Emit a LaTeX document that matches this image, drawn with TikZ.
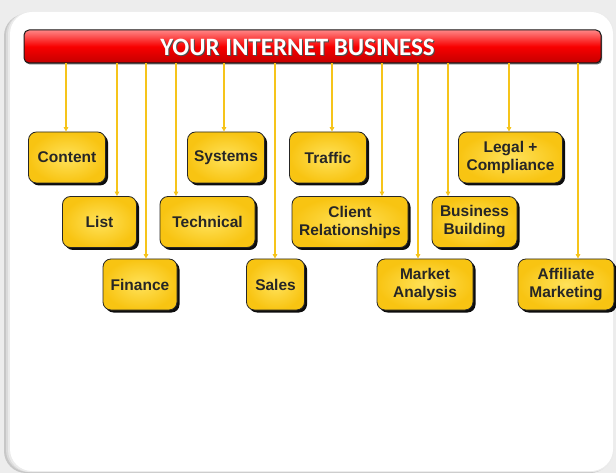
\documentclass[tikz,border=0pt]{standalone}
\usepackage{fontspec}
\setmainfont{Liberation Sans}
\newfontfamily\titlefont{Carlito}
\usetikzlibrary{arrows.meta,shadows}
\definecolor{boxin}{HTML}{FFE25A}
\definecolor{boxout}{HTML}{F8C412}
\definecolor{linecol}{HTML}{F6C41A}
\definecolor{redtop}{HTML}{FF8585}
\definecolor{redmid}{HTML}{F80000}
\definecolor{redbot}{HTML}{C40000}
\definecolor{bggray}{HTML}{EDEDED}
\begin{document}
\begin{tikzpicture}[x=1pt,y=-1pt,
  biz/.style={draw=black!85, line width=0.8pt, rounded corners=8pt,
    inner color=boxin, outer color=boxout, align=center,
    font=\bfseries\fontsize{15.5}{18}\selectfont, text=black!85,
    minimum height=51pt, inner sep=2pt,
    drop shadow={shadow xshift=2.5pt, shadow yshift=-2.5pt, fill=black, opacity=0.95}},
  conn/.style={draw=linecol, line width=1.5pt, -{Triangle[length=4.5pt,width=4.5pt]}},
  barstyle/.style={draw=black!90, line width=1pt, rounded corners=5pt,
    top color=redtop, bottom color=redbot, middle color=redmid,
    drop shadow={shadow xshift=1pt, shadow yshift=-1.5pt, fill=black, opacity=0.6}}]
\useasboundingbox (0,0) rectangle (616,473);
% background
\fill[bggray] (0,0) rectangle (616,473);
\fill[black!22, rounded corners=22pt] (4,14) rectangle (612,473);
\fill[black!14, rounded corners=22pt] (6,13) rectangle (613,472);
\fill[black!8, rounded corners=22pt] (8,12) rectangle (614,472);
\fill[white, rounded corners=22pt] (10,12) rectangle (613,471);
% bar
\node[barstyle, minimum width=577pt, minimum height=33pt] (bar) at (312.5,46.5) {};
\node[text=black!70, font=\titlefont\bfseries\fontsize{25}{27}\selectfont] (titleshadow) at (298.5,48.3) {YOUR INTERNET BUSINESS};
\node[text=white, font=\titlefont\bfseries\fontsize{25}{27}\selectfont] (title) at (297.5,47) {YOUR INTERNET BUSINESS};
% boxes
\node[biz, minimum width=77pt] (content) at (67,157.5) {Content};
\node[biz, minimum width=77pt] (systems) at (226,157.5) {Systems};
\node[biz, minimum width=77pt] (traffic) at (328,157.5) {Traffic};
\node[biz, minimum width=104pt] (legal) at (510.5,157.5) {Legal +\\Compliance};
\node[biz, minimum width=74pt] (list) at (99.5,222) {List};
\node[biz, minimum width=95pt] (technical) at (207.5,222) {Technical};
\node[biz, minimum width=116pt] (client) at (350,222) {Client\\Relationships};
\node[biz, minimum width=85pt] (business) at (474.5,222) {Business\\Building};
\node[biz, minimum width=74pt] (finance) at (140,284.5) {Finance};
\node[biz, minimum width=58pt] (sales) at (275.5,284.5) {Sales};
\node[biz, minimum width=96pt] (market) at (425,284.5) {Market\\Analysis};
\node[biz, minimum width=96pt] (affiliate) at (566,284.5) {Affiliate\\Marketing};
% connector start points on the bar
\coordinate (s1) at (66,63);
\coordinate (s2) at (117,63);
\coordinate (s3) at (146,63);
\coordinate (s4) at (176,63);
\coordinate (s5) at (224,63);
\coordinate (s6) at (275,63);
\coordinate (s7) at (332,63);
\coordinate (s8) at (382,63);
\coordinate (s9) at (418,63);
\coordinate (s10) at (448,63);
\coordinate (s11) at (509,63);
\coordinate (s12) at (578,63);
% connectors
\draw[conn] (s1) -- (s1 |- content.north);
\draw[conn] (s2) -- (s2 |- list.north);
\draw[conn] (s3) -- (s3 |- finance.north);
\draw[conn] (s4) -- (s4 |- technical.north);
\draw[conn] (s5) -- (s5 |- systems.north);
\draw[conn] (s6) -- (s6 |- sales.north);
\draw[conn] (s7) -- (s7 |- traffic.north);
\draw[conn] (s8) -- (s8 |- client.north);
\draw[conn] (s9) -- (s9 |- market.north);
\draw[conn] (s10) -- (s10 |- business.north);
\draw[conn] (s11) -- (s11 |- legal.north);
\draw[conn] (s12) -- (s12 |- affiliate.north);
\end{tikzpicture}
\end{document}
